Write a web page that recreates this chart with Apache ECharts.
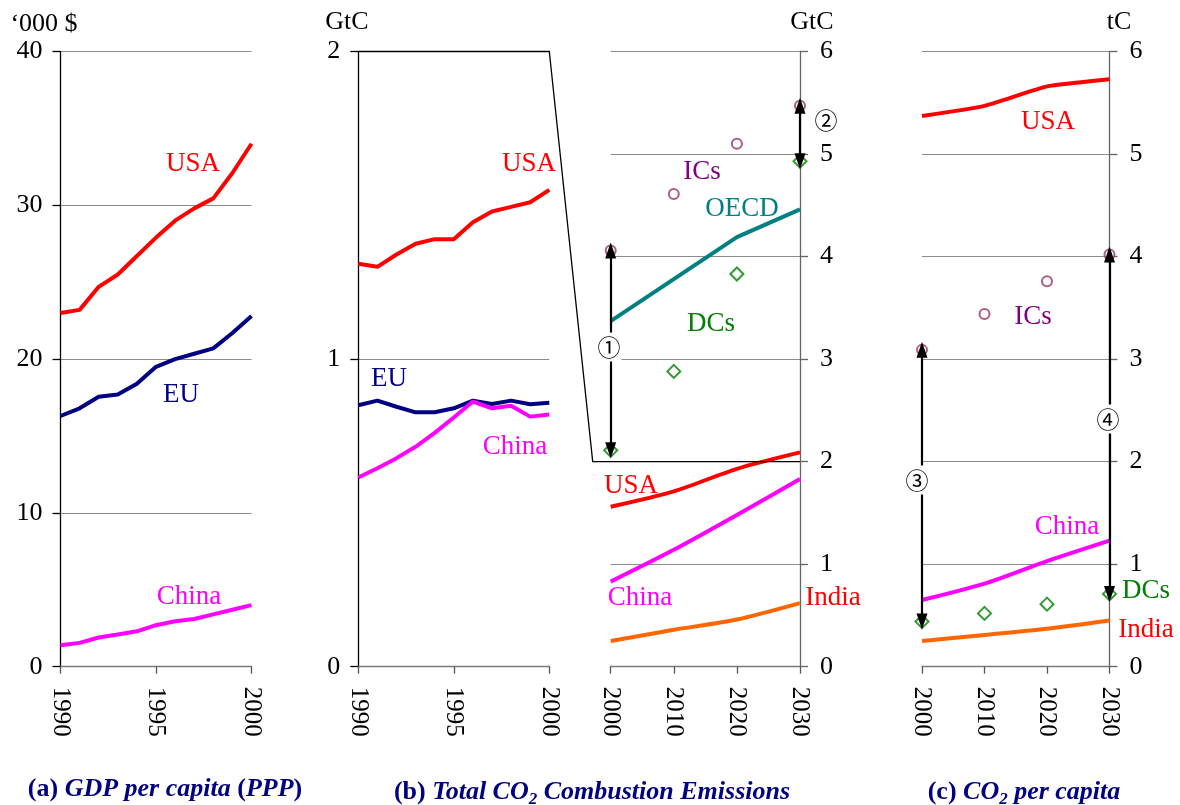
<!DOCTYPE html>
<html><head><meta charset="utf-8">
<script src="https://cdn.jsdelivr.net/npm/echarts@6/dist/echarts.min.js"></script>
<style>html,body{margin:0;padding:0;background:#fff}#c{width:1180px;height:805px}</style>
</head><body><div id="c"></div>
<script>
// ---- data ----
const histYears = [1990,1991,1992,1993,1994,1995,1996,1997,1998,1999,2000];
const gdpUSA   = [23.0,23.2,24.7,25.5,26.7,27.9,29.0,29.8,30.45,32.1,34.0];
const gdpEU    = [16.3,16.8,17.55,17.7,18.4,19.5,20.0,20.35,20.7,21.7,22.8];
const gdpChina = [1.4,1.55,1.9,2.1,2.3,2.7,2.95,3.1,3.4,3.7,4.0];
const co2USA   = [1.31,1.30,1.34,1.375,1.39,1.39,1.445,1.48,1.495,1.51,1.55];
const co2EU    = [0.85,0.865,0.845,0.827,0.827,0.84,0.865,0.854,0.865,0.853,0.858];
const co2China = [0.615,0.645,0.678,0.715,0.76,0.81,0.862,0.84,0.848,0.813,0.82];
const projYears = [2000,2010,2020,2030];
const totICs   = [4.06,4.61,5.10,5.47];
const totDCs   = [2.11,2.88,3.83,4.93];
const totOECD  = [3.37,3.78,4.19,4.46];
const totUSA   = [1.56,1.71,1.93,2.09];
const totChina = [0.83,1.14,1.48,1.83];
const totIndia = [0.25,0.36,0.46,0.62];
const pcUSA    = [5.37,5.47,5.66,5.73];
const pcICs    = [3.09,3.44,3.76,4.02];
const pcChina  = [0.65,0.81,1.03,1.23];
const pcDCs    = [0.44,0.52,0.61,0.71];
const pcIndia  = [0.25,0.31,0.37,0.45];
const gdpTicks = [0,10,20,30,40];
const histTicks = [1990,1995,2000];
const projTicks = [2000,2010,2020,2030];

// ---- styles ----
const FF = '"Liberation Serif", "Times New Roman", serif';
const C = {usa:'#FF0000', eu:'#000080', china:'#FF00FF', oecd:'#008080', india:'#FF6600',
           ics:'#993366', icsTxt:'#800080', dcs:'#008000', grid:'#8c8c8c', navy:'#000080'};
const pairs = (xs, ys) => xs.map((x,i)=>[x, ys[i]]);

function xAx(gi, min, max, interval){
  return {type:'value', gridIndex:gi, min, max, interval,
    axisLine:{show:true, onZero:false, lineStyle:{color:'#7a7a7a', width:1.3}},
    axisTick:{show:true, length:7, lineStyle:{color:'#555', width:1.3}},
    axisLabel:{rotate:-90, margin:20, color:'#000', fontFamily:FF, fontSize:25,
      formatter: v => String(v)},
    splitLine:{show:false}};
}
function yAx(gi, min, max, interval, pos, axColor, margin){
  return {type:'value', gridIndex:gi, min, max, interval, position:pos,
    axisLine:{show:true, onZero:false, lineStyle:{color:axColor, width:1.3}},
    axisTick:{show:true, length:8, lineStyle:{color:axColor, width:1.3}},
    axisLabel:{margin, color:'#000', fontFamily:FF, fontSize:26},
    splitLine:{show:true, lineStyle:{color:C.grid, width:1}}};
}
function line(gi, xs, ys, color, smooth){
  return {type:'line', xAxisIndex:gi, yAxisIndex:gi, data:pairs(xs,ys), showSymbol:false,
    symbol:'none', smooth:smooth||false, lineStyle:{color, width:4}, itemStyle:{color}, z:3};
}
function scat(gi, xs, ys, symbol, size, color){
  return {type:'scatter', xAxisIndex:gi, yAxisIndex:gi, data:pairs(xs,ys), symbol, symbolSize:size,
    itemStyle:{color:'#fff', borderColor:color, borderWidth:2}, z:4};
}
function arrows(gi, list){
  return {type:'scatter', xAxisIndex:gi, yAxisIndex:gi, data:[], z:5,
    markLine:{silent:true, symbol:['triangle','triangle'], symbolSize:[11,16], animation:false,
      lineStyle:{type:'solid', color:'#000', width:2.2},
      label:{show:false}, emphasis:{disabled:true},
      data: list.map(a => [{coord:[a[0], a[1]]},{coord:[a[0], a[2]]}])}};
}

const option = {
  animation:false,
  backgroundColor:'#fff',
  grid:[
    {left:60.5, top:51.5, width:191, height:615.2},
    {left:358.3, top:51.5, width:191, height:615.2},
    {left:610.7, top:51.5, width:189.3, height:615.2},
    {left:922, top:51.5, width:187.5, height:615.2}
  ],
  xAxis:[
    xAx(0, histTicks[0], histTicks[2], 5),
    xAx(1, histTicks[0], histTicks[2], 5),
    xAx(2, projTicks[0], projTicks[3], 10),
    xAx(3, projTicks[0], projTicks[3], 10)
  ],
  yAxis:[
    yAx(0, gdpTicks[0], gdpTicks[4], 10, 'left', '#000', 18),
    yAx(1, 0, 2, 1, 'left', '#000', 18),
    yAx(2, 0, 6, 1, 'right', '#666', 20),
    yAx(3, 0, 6, 1, 'right', '#666', 20)
  ],
  title:[
    {text:'{n|(a) }{i|GDP per capita }{n|(}{i|PPP}{n|)}', left:160, top:771, textAlign:'center',
     textStyle:{rich:{}}},
    {text:'{n|(b) }{i|Total CO}{s|2}{i| Combustion Emissions}', left:587, top:771, textAlign:'center',
     textStyle:{rich:{}}},
    {text:'{n|(c) }{i|CO}{s|2}{i| per capita}', left:1019, top:771, textAlign:'center',
     textStyle:{rich:{}}}
  ],
  series:[
    line(0, histYears, gdpUSA, C.usa),
    line(0, histYears, gdpEU, C.eu),
    line(0, histYears, gdpChina, C.china),
    line(1, histYears, co2USA, C.usa),
    line(1, histYears, co2EU, C.eu),
    line(1, histYears, co2China, C.china),
    line(2, projYears, totOECD, C.oecd),
    line(2, projYears, totUSA, C.usa, 0.25),
    line(2, projYears, totChina, C.china, 0.25),
    line(2, projYears, totIndia, C.india, 0.25),
    scat(2, projYears, totICs, 'circle', 10, C.ics),
    scat(2, projYears, totDCs, 'diamond', 13, C.dcs),
    arrows(2, [[projYears[0], totICs[0], totDCs[0]], [projYears[3], totICs[3], totDCs[3]]]),
    line(3, projYears, pcUSA, C.usa, 0.15),
    line(3, projYears, pcChina, C.china, 0.25),
    line(3, projYears, pcIndia, C.india, 0.25),
    scat(3, projYears, pcICs, 'circle', 10, C.ics),
    scat(3, projYears, pcDCs, 'diamond', 13, C.dcs),
    arrows(3, [[projYears[0], pcICs[0], pcDCs[0]], [projYears[3], pcICs[3], pcDCs[3]]])
  ]
};
const rich = {
  n:{fontFamily:FF, fontSize:26, fontWeight:'bold', color:C.navy},
  i:{fontFamily:FF, fontSize:26, fontWeight:'bold', fontStyle:'italic', color:C.navy},
  s:{fontFamily:FF, fontSize:17, fontWeight:'bold', fontStyle:'italic', color:C.navy, padding:[15,0,0,0]}
};
option.title.forEach(t => { t.textStyle.rich = rich; });

const chart = echarts.init(document.getElementById('c'), null, {renderer:'canvas'});
chart.setOption(option);

// ---- annotations ----
function txt(x, y, text, color, size){
  return {type:'text', x, y, z:100, style:{text, fill:color,
    font: (size||27) + 'px ' + FF, textAlign:'center', textVerticalAlign:'middle',
    align:'center', verticalAlign:'middle'}};
}
function circled(x, y, text){
  return {type:'text', x, y, z:110, style:{text, fill:'#000', font:'23px "Noto Sans CJK SC", "DejaVu Sans"',
    textAlign:'center', textVerticalAlign:'middle', align:'center', verticalAlign:'middle',
    backgroundColor:'#fff', padding:[3,1,3,1]}};
}
const pA = chart.convertToPixel({gridIndex:1}, [1990, 2]);
const pB = chart.convertToPixel({gridIndex:1}, [2000, 2]);
const pD = chart.convertToPixel({gridIndex:2}, [2030, 2]);
const pC0 = chart.convertToPixel({gridIndex:2}, [2000, 2]);
const pC = [pC0[0] - 18, pC0[1]];

const graphic = [
  {type:'polyline', z:50, shape:{points:[pA, pB, pC, pD]}, style:{stroke:'#000', lineWidth:1.3, fill:null}},
  txt(44, 24, '\u2018000 $', '#000', 26),
  txt(347, 22, 'GtC', '#000', 26),
  txt(812, 22, 'GtC', '#000', 26),
  txt(1119, 22, 'tC', '#000', 26),
  txt(193, 164, 'USA', C.usa), txt(181, 395, 'EU', C.eu), txt(189, 597, 'China', C.china),
  txt(529, 164, 'USA', C.usa), txt(389, 379, 'EU', C.eu), txt(515, 447, 'China', C.china),
  txt(702, 172, 'ICs', C.icsTxt), txt(742, 209, 'OECD', C.oecd), txt(711, 324, 'DCs', C.dcs),
  txt(631, 486, 'USA', C.usa), txt(640, 598, 'China', C.china), txt(833, 598, 'India', C.usa),
  txt(1048, 122, 'USA', C.usa), txt(1033, 317, 'ICs', C.icsTxt), txt(1067, 527, 'China', C.china),
  txt(1146, 591, 'DCs', C.dcs), txt(1146, 630, 'India', C.usa),
  circled(609, 347, '\u2460'), circled(826, 120, '\u2461'), circled(917, 480, '\u2462'), circled(1108, 419, '\u2463')
];
chart.setOption({graphic});
</script>
</body></html>
